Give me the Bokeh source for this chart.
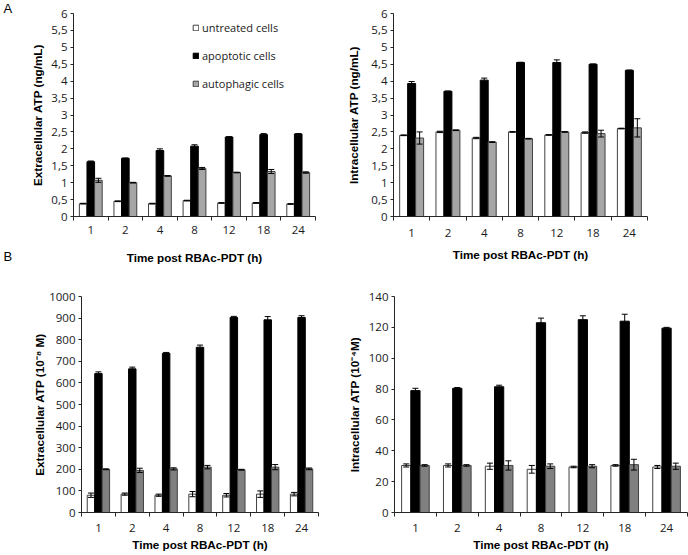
import numpy as np
from bokeh.plotting import figure
from bokeh.models import ColumnDataSource, Range1d, FixedTicker, Whisker, TeeHead, Title
from bokeh.layouts import row, column
from bokeh.transform import dodge
from bokeh.embed import file_html
from bokeh.resources import INLINE

times = ["1", "2", "4", "8", "12", "18", "24"]
series_names = ["untreated cells", "apoptotic cells", "autophagic cells"]

# Panel A, left: extracellular ATP (ng/mL)
a_ext_untreated = [0.38, 0.45, 0.38, 0.47, 0.40, 0.40, 0.37]
a_ext_untreated_err = [0.01, 0.01, 0.01, 0.01, 0.01, 0.01, 0.01]
a_ext_apoptotic = [1.62, 1.72, 1.95, 2.08, 2.35, 2.42, 2.44]
a_ext_apoptotic_err = [0.02, 0.01, 0.05, 0.04, 0.01, 0.03, 0.01]
a_ext_autophagic = [1.07, 1.00, 1.20, 1.42, 1.30, 1.33, 1.30]
a_ext_autophagic_err = [0.06, 0.01, 0.01, 0.03, 0.01, 0.06, 0.02]

# Panel A, right: intracellular ATP (ng/mL)
a_int_untreated = [2.40, 2.50, 2.32, 2.50, 2.41, 2.48, 2.60]
a_int_untreated_err = [0.01, 0.02, 0.02, 0.01, 0.01, 0.02, 0.01]
a_int_apoptotic = [3.93, 3.70, 4.03, 4.55, 4.55, 4.50, 4.32]
a_int_apoptotic_err = [0.06, 0.01, 0.06, 0.01, 0.08, 0.01, 0.01]
a_int_autophagic = [2.32, 2.55, 2.20, 2.30, 2.50, 2.45, 2.62]
a_int_autophagic_err = [0.18, 0.01, 0.01, 0.01, 0.01, 0.10, 0.27]

# Panel B, left: extracellular ATP (10^-8 M)
b_ext_untreated = [80, 85, 80, 85, 80, 85, 85]
b_ext_untreated_err = [10, 5, 5, 12, 8, 15, 8]
b_ext_apoptotic = [643, 665, 737, 765, 903, 892, 903]
b_ext_apoptotic_err = [8, 8, 4, 10, 5, 15, 8]
b_ext_autophagic = [200, 195, 202, 210, 198, 210, 202]
b_ext_autophagic_err = [2, 10, 5, 8, 2, 12, 4]

# Panel B, right: intracellular ATP (10^-4 M)
b_int_untreated = [30.5, 30.5, 30.0, 28.0, 29.5, 30.5, 29.5]
b_int_untreated_err = [1.0, 1.0, 2.0, 2.5, 0.5, 0.5, 1.0]
b_int_apoptotic = [79.0, 80.5, 81.5, 123.0, 125.0, 124.0, 119.5]
b_int_apoptotic_err = [1.5, 0.5, 1.0, 3.0, 2.5, 4.5, 0.5]
b_int_autophagic = [30.5, 30.5, 30.5, 30.0, 30.0, 31.0, 30.0]
b_int_autophagic_err = [0.5, 0.5, 3.0, 1.5, 1.0, 3.5, 2.0]

a_yticks = [0, 0.5, 1, 1.5, 2, 2.5, 3, 3.5, 4, 4.5, 5, 5.5, 6]
a_ylabels = ["0", "0,5", "1", "1,5", "2", "2,5", "3", "3,5", "4", "4,5", "5", "5,5", "6"]
b_ext_yticks = [0, 100, 200, 300, 400, 500, 600, 700, 800, 900, 1000]
b_int_yticks = [0, 20, 40, 60, 80, 100, 120, 140]

x_title = "Time post RBAc-PDT (h)"
panel_letters = ["A", "B"]

TICK_FONT = "Open Sans"
TITLE_FONT = "Liberation Sans"
AXIS_COLOR = "#262626"
EDGE = "#404040"
BAR_W = 0.22


def key(v):
    return int(v) if float(v).is_integer() else v


def make_panel(w, h, bl, br, bt, bb, ymax, yticks, ylabels, ytitle,
               vals, errs, auto_color, xls, xas, yas, legend=False):
    p = figure(width=w, height=h, output_backend="svg", toolbar_location=None,
               x_range=Range1d(0, len(times)), y_range=Range1d(0, ymax),
               min_border_left=bl, min_border_right=br,
               min_border_top=bt, min_border_bottom=bb)
    p.outline_line_color = None
    p.grid.visible = False
    p.background_fill_color = "white"
    p.border_fill_color = "white"

    centers = list(np.arange(len(times)) + 0.5)
    data = dict(x=centers)
    keys = ["u", "a", "g"]
    for k, v, e in zip(keys, vals, errs):
        data[k] = v
        data[k + "_hi"] = list(np.array(v) + np.array(e))
        data[k + "_lo"] = list(np.array(v) - np.array(e))
    src = ColumnDataSource(data)

    fills = ["white", "black", auto_color]
    lines = [EDGE, "black", EDGE]
    offs = [-BAR_W, 0.0, BAR_W]
    for k, off, fc, lc, name in zip(keys, offs, fills, lines, series_names):
        kw = dict(legend_label=name) if legend else {}
        p.vbar(x=dodge("x", off), top=k, width=BAR_W, bottom=0, source=src,
               fill_color=fc, line_color=lc, line_width=1, **kw)
    for k, off in zip(keys, offs):
        wk = Whisker(source=src, base=dodge("x", off), upper=k + "_hi", lower=k + "_lo",
                     line_color="black", line_width=1, level="overlay",
                     upper_head=TeeHead(size=6, line_color="black", line_width=1),
                     lower_head=TeeHead(size=6, line_color="black", line_width=1))
        p.add_layout(wk)

    # x axis: labels at category centres, tick marks at category boundaries
    xa = p.xaxis[0]
    xa.ticker = FixedTicker(ticks=centers, minor_ticks=list(range(len(times) + 1)))
    xa.major_label_overrides = {key(c): t for c, t in zip(centers, times)}
    xa.major_tick_line_color = None
    xa.major_tick_out = 4
    xa.major_tick_in = 0
    xa.minor_tick_out = 4
    xa.minor_tick_in = 0
    xa.minor_tick_line_color = AXIS_COLOR
    xa.axis_line_color = AXIS_COLOR
    xa.major_label_text_font = TICK_FONT
    xa.major_label_text_font_size = "11.5px"
    xa.major_label_text_color = "#1a1a1a"
    xa.major_label_standoff = xls
    xa.axis_label = x_title
    xa.axis_label_text_font = TITLE_FONT
    xa.axis_label_text_font_style = "bold"
    xa.axis_label_text_font_size = "11.7px"
    xa.axis_label_text_color = "black"
    xa.axis_label_standoff = xas

    ya = p.yaxis[0]
    ya.ticker = FixedTicker(ticks=yticks, minor_ticks=[])
    if ylabels is not None:
        ya.major_label_overrides = {key(t): s for t, s in zip(yticks, ylabels)}
    ya.major_tick_out = 3
    ya.major_tick_in = 0
    ya.major_tick_line_color = AXIS_COLOR
    ya.minor_tick_line_color = None
    ya.axis_line_color = AXIS_COLOR
    ya.major_label_text_font = TICK_FONT
    ya.major_label_text_font_size = "11.5px"
    ya.major_label_text_color = "#1a1a1a"
    ya.major_label_standoff = 3
    ya.axis_label = ytitle
    ya.axis_label_text_font = TITLE_FONT
    ya.axis_label_text_font_style = "bold"
    ya.axis_label_text_font_size = "11.7px"
    ya.axis_label_text_color = "black"
    ya.axis_label_standoff = yas

    if legend:
        lg = p.legend[0]
        lg.location = (119, 123)
        lg.padding = 0
        lg.margin = 0
        lg.spacing = 8
        lg.glyph_width = 7
        lg.glyph_height = 7
        lg.label_height = 20
        lg.label_standoff = 3
        lg.border_line_color = None
        lg.background_fill_alpha = 0
        lg.label_text_font = TICK_FONT
        lg.label_text_font_size = "11px"
        lg.label_text_color = "#1a1a1a"
    return p


tl = make_panel(344, 266, 73, 29, 13, 50, 6, a_yticks, a_ylabels,
                "Extracellular ATP (ng/mL)",
                [a_ext_untreated, a_ext_apoptotic, a_ext_autophagic],
                [a_ext_untreated_err, a_ext_apoptotic_err, a_ext_autophagic_err],
                "#a6a6a6", 5, 14, 4, legend=True)
tr = make_panel(344, 266, 44, 41, 13, 49, 6, a_yticks, a_ylabels,
                "Intracellular ATP (ng/mL)",
                [a_int_untreated, a_int_apoptotic, a_int_autophagic],
                [a_int_untreated_err, a_int_apoptotic_err, a_int_autophagic_err],
                "#a6a6a6", 8, 8, 8)
bl = make_panel(344, 289, 81, 26, 30, 43, 1000, b_ext_yticks, None,
                "Extracellular ATP (10\u207b\u2078 M)",
                [b_ext_untreated, b_ext_apoptotic, b_ext_autophagic],
                [b_ext_untreated_err, b_ext_apoptotic_err, b_ext_autophagic_err],
                "#808080", 7, 3, 0)
br = make_panel(344, 289, 44, 1, 30, 43, 140, b_int_yticks, None,
                "Intracellular ATP (10\u207b\u2074M)",
                [b_int_untreated, b_int_apoptotic, b_int_autophagic],
                [b_int_untreated_err, b_int_apoptotic_err, b_int_autophagic_err],
                "#808080", 7, 3, 5)

# panel letter A: left-aligned title above the first chart
tl.add_layout(Title(text=panel_letters[0], align="left", offset=-70, standoff=-5,
                    text_font=TITLE_FONT, text_font_size="13px",
                    text_font_style="normal", text_color="black"), "above")
# panel letter B: title below the first chart's x axis, pulled up by a negative standoff
tl.add_layout(Title(text=panel_letters[1], align="left", offset=-70, standoff=-35,
                    vertical_align="top",
                    text_font=TITLE_FONT, text_font_size="13px",
                    text_font_style="normal", text_color="black"), "below")

layout = column(row(tl, tr), row(bl, br))
open("out.html", "w").write(file_html(layout, INLINE))
